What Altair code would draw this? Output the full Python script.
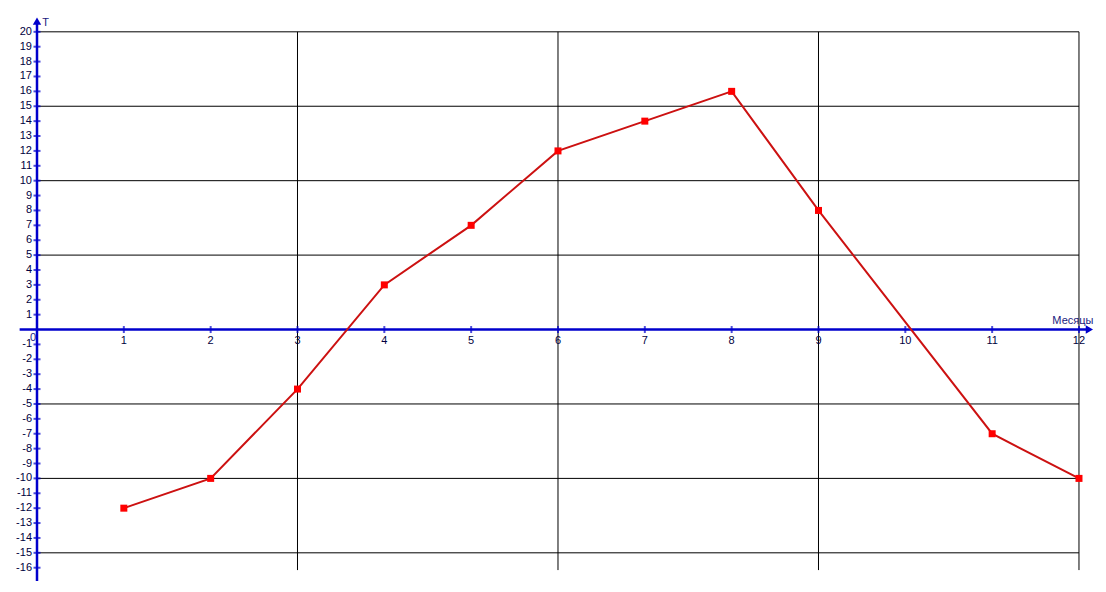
import altair as alt
import pandas as pd

months = [1, 2, 3, 4, 5, 6, 7, 8, 9, 11, 12]
temps = [-12, -10, -4, 3, 7, 12, 14, 16, 8, -7, -10]

x_ticks = list(range(1, 13))
y_ticks = [v for v in range(-16, 21) if v != 0]
h_grid = [20, 15, 10, 5, -5, -10, -15]
v_grid = [3, 6, 9, 12]

X_DOM = [-0.334, 12.219]
Y_DOM = [-16.96, 21.60]

xs = alt.Scale(domain=X_DOM, nice=False, zero=False)
ys = alt.Scale(domain=Y_DOM, nice=False, zero=False)

AXIS_BLUE = "#0000CC"
LABEL_COL = "#000040"
FONT = "Liberation Sans"

data = pd.DataFrame({"m": months, "t": temps})

hg = pd.DataFrame({"y": h_grid, "x0": 0, "x1": 12})
vg = pd.DataFrame({"x": v_grid, "y0": -16.16, "y1": 20})

hgrid = alt.Chart(hg).mark_rule(color="black", strokeWidth=1).encode(
    x=alt.X("x0:Q", scale=xs, axis=None), x2="x1:Q",
    y=alt.Y("y:Q", scale=ys, axis=None))
vgrid = alt.Chart(vg).mark_rule(color="black", strokeWidth=1).encode(
    x=alt.X("x:Q", scale=xs, axis=None),
    y=alt.Y("y0:Q", scale=ys, axis=None), y2="y1:Q")

yaxis = alt.Chart(pd.DataFrame({"x": [0], "y0": [-16.9], "y1": [20.6]})).mark_rule(
    color=AXIS_BLUE, strokeWidth=2.5).encode(
    x=alt.X("x:Q", scale=xs, axis=None),
    y=alt.Y("y0:Q", scale=ys, axis=None), y2="y1:Q")
xaxis = alt.Chart(pd.DataFrame({"y": [0], "x0": [-0.2], "x1": [12.1]})).mark_rule(
    color=AXIS_BLUE, strokeWidth=2.5).encode(
    x=alt.X("x0:Q", scale=xs, axis=None), x2="x1:Q",
    y=alt.Y("y:Q", scale=ys, axis=None))

yarrow = alt.Chart(pd.DataFrame({"x": [0], "y": [20.72]})).mark_point(
    shape="triangle-up", filled=True, color=AXIS_BLUE, size=70, opacity=1).encode(
    x=alt.X("x:Q", scale=xs, axis=None), y=alt.Y("y:Q", scale=ys, axis=None))
xarrow = alt.Chart(pd.DataFrame({"x": [12.12], "y": [0]})).mark_point(
    shape="triangle-right", filled=True, color=AXIS_BLUE, size=70, opacity=1).encode(
    x=alt.X("x:Q", scale=xs, axis=None), y=alt.Y("y:Q", scale=ys, axis=None))

yt = pd.DataFrame({"y": y_ticks, "x": 0, "lab": [str(v) for v in y_ticks]})
xt = pd.DataFrame({"x": x_ticks, "y": 0, "lab": [str(v) for v in x_ticks]})

ytick = alt.Chart(yt).mark_tick(orient="horizontal", color=AXIS_BLUE, size=7, thickness=2).encode(
    x=alt.X("x:Q", scale=xs, axis=None), y=alt.Y("y:Q", scale=ys, axis=None))
xtick = alt.Chart(xt).mark_tick(orient="vertical", color=AXIS_BLUE, size=7, thickness=2).encode(
    x=alt.X("x:Q", scale=xs, axis=None), y=alt.Y("y:Q", scale=ys, axis=None))

ylab = alt.Chart(yt).mark_text(align="right", baseline="middle", dx=-5, font=FONT,
                               fontSize=11, color=LABEL_COL).encode(
    x=alt.X("x:Q", scale=xs, axis=None), y=alt.Y("y:Q", scale=ys, axis=None), text="lab:N")
xlab = alt.Chart(xt).mark_text(align="center", baseline="middle", dy=11, font=FONT,
                               fontSize=11, color=LABEL_COL).encode(
    x=alt.X("x:Q", scale=xs, axis=None), y=alt.Y("y:Q", scale=ys, axis=None), text="lab:N")

extra = pd.DataFrame({
    "x": [-0.046, 0.10, 11.93],
    "y": [-0.54, 20.6, 0.6],
    "lab": ["0", "T", "Месяцы"],
})
extra_txt = alt.Chart(extra).mark_text(align="center", baseline="middle", font=FONT,
                                       fontSize=11, color="#1a1a80").encode(
    x=alt.X("x:Q", scale=xs, axis=None), y=alt.Y("y:Q", scale=ys, axis=None), text="lab:N")

line = alt.Chart(data).mark_line(color="#CC1111", strokeWidth=2).encode(
    x=alt.X("m:Q", scale=xs, axis=None), y=alt.Y("t:Q", scale=ys, axis=None))
pts = alt.Chart(data).mark_point(shape="square", filled=True, color="#FF0000", size=49, opacity=1).encode(
    x=alt.X("m:Q", scale=xs, axis=None), y=alt.Y("t:Q", scale=ys, axis=None))

chart = alt.layer(
    hgrid, vgrid, xaxis, yaxis, yarrow, xarrow, ytick, xtick, ylab, xlab, extra_txt, line, pts
).properties(
    width=1090, height=574, padding=0, autosize=alt.AutoSizeParams(type="none")
).configure_view(stroke=None)

chart.save("out.html", embed_options={"renderer": "svg", "actions": False})
